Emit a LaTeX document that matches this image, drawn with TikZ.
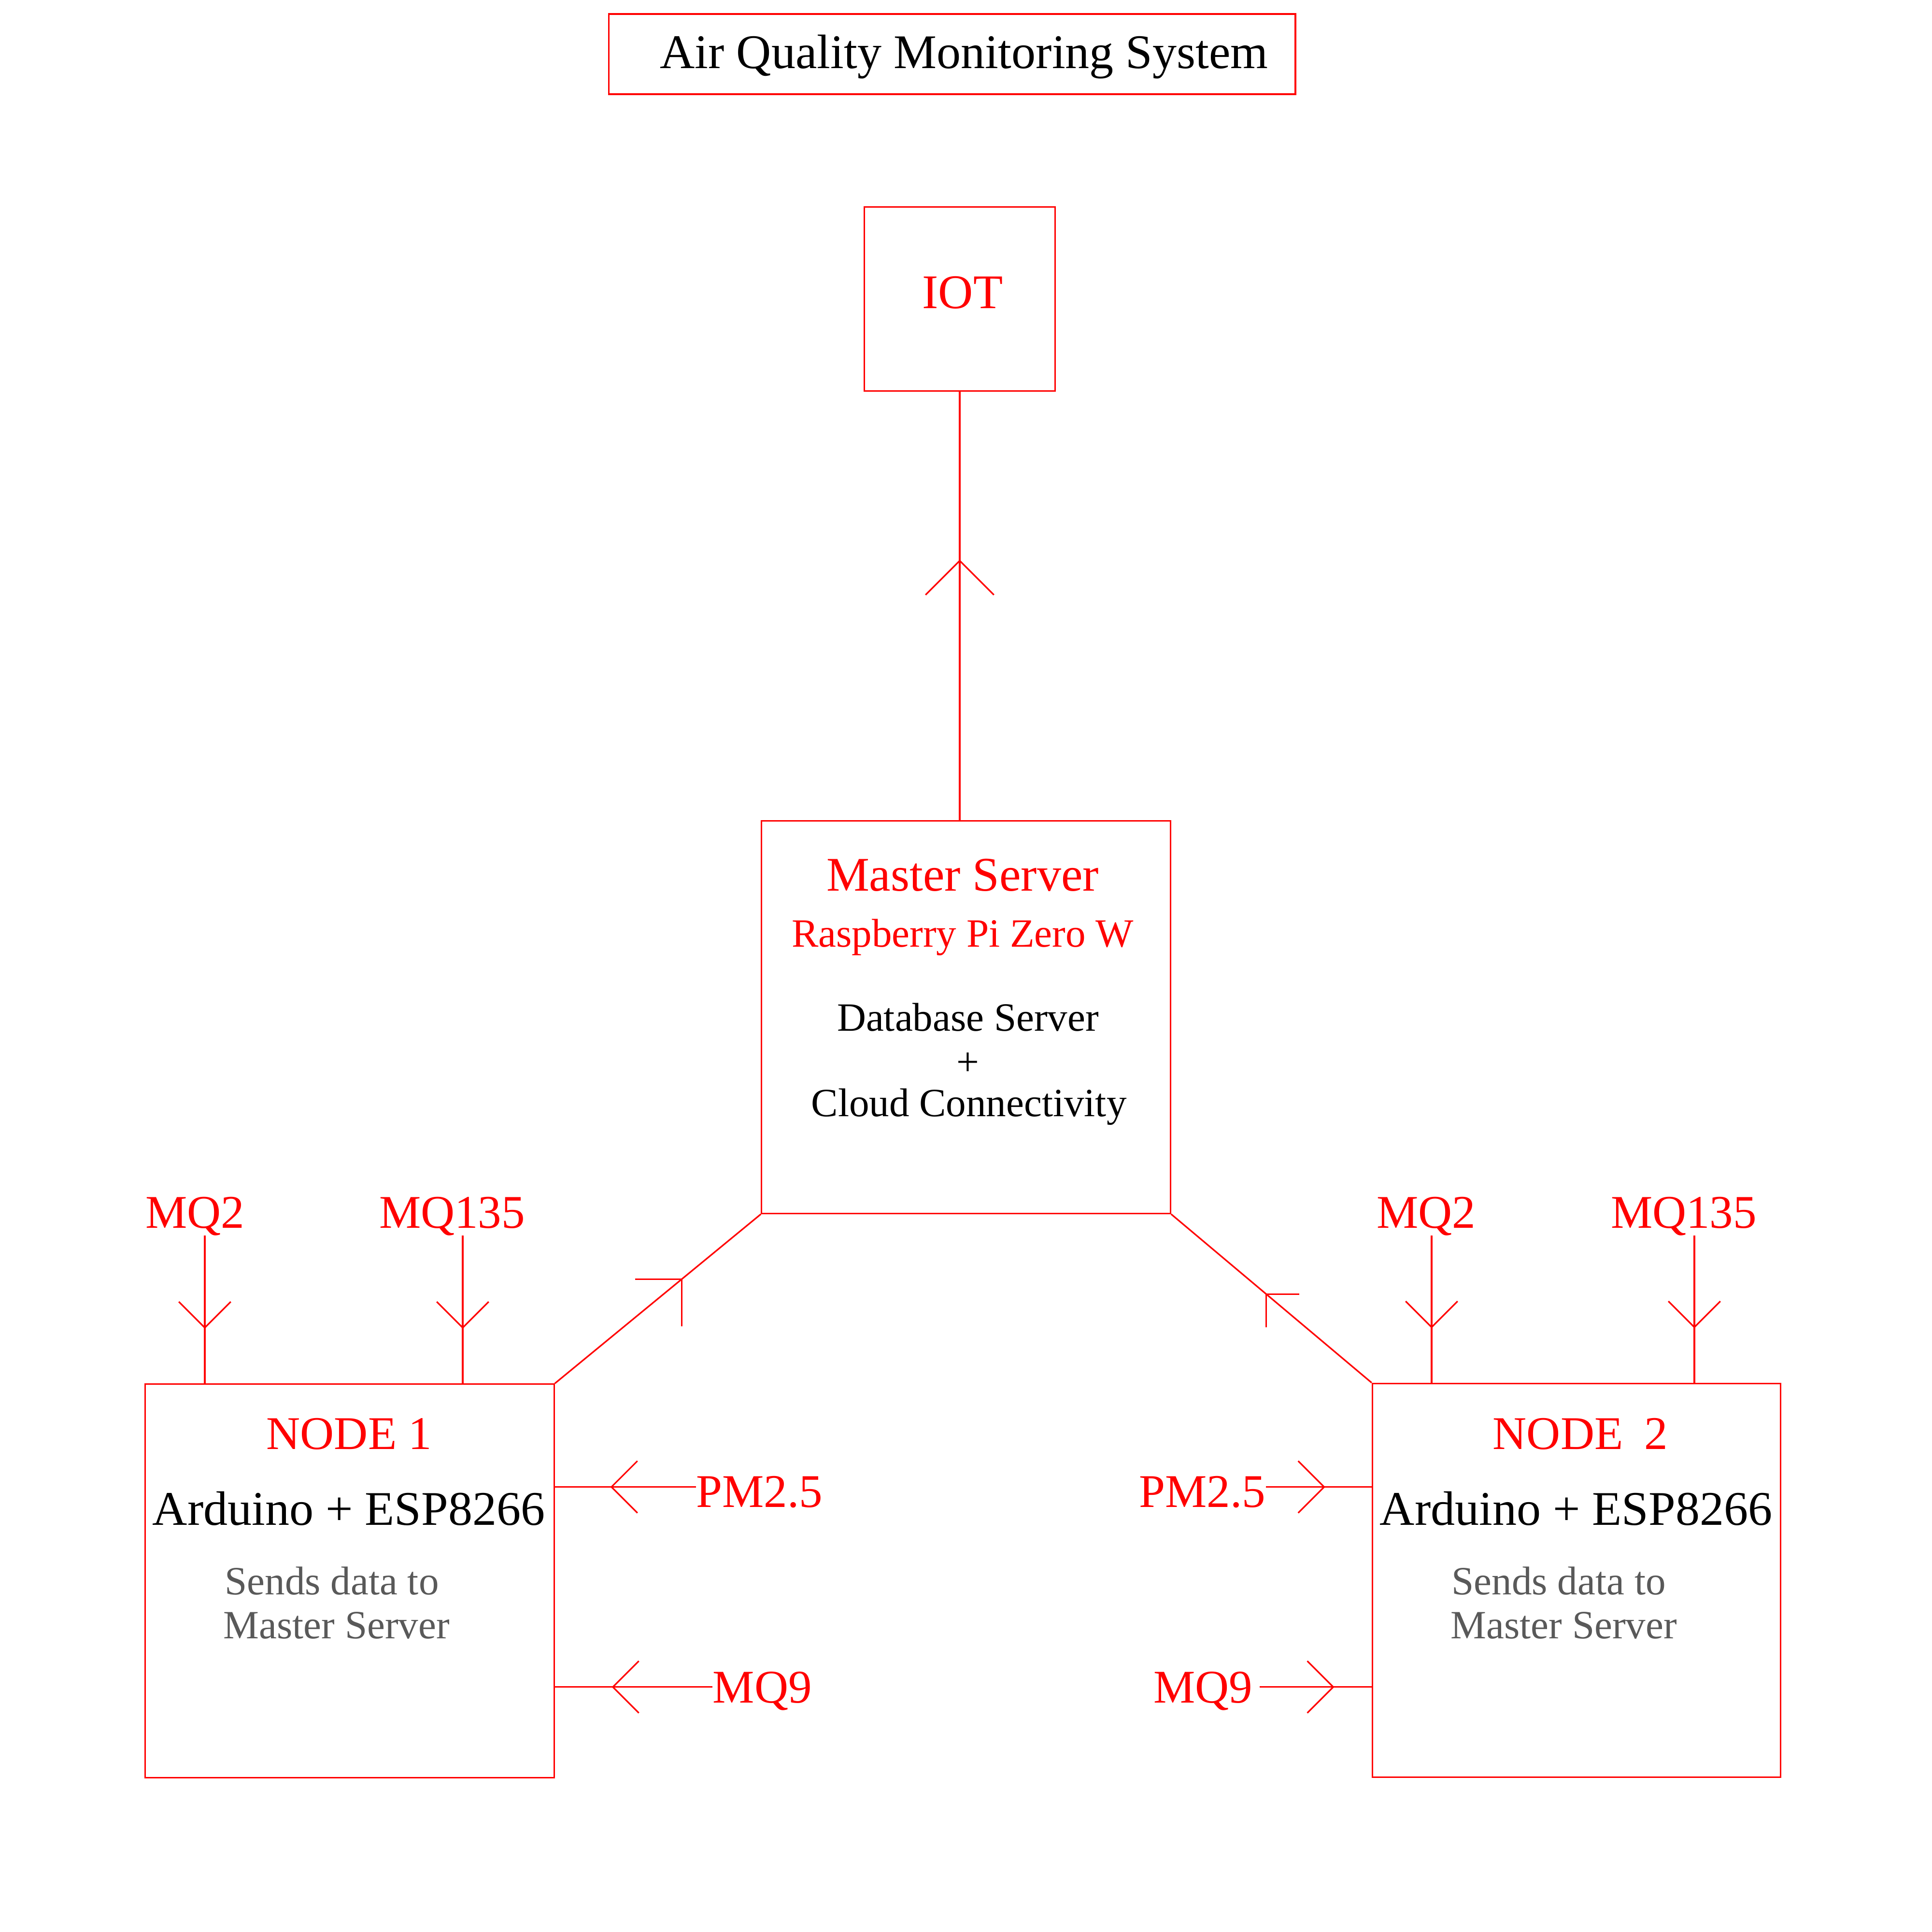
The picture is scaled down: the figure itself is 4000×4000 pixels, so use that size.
\documentclass[tikz,border=0pt]{standalone}
\usepackage{fontspec}
\setmainfont{Liberation Serif}
\usetikzlibrary{arrows.meta,decorations.markings}
\definecolor{sendgray}{RGB}{89,89,89}
\newcommand{\szbig}{\fontsize{1cm}{1.2cm}\selectfont}
\newcommand{\szlbl}{\fontsize{0.97cm}{1.2cm}\selectfont}
\newcommand{\szard}{\fontsize{1cm}{1.2cm}\selectfont}
\newcommand{\szsmall}{\fontsize{0.83cm}{1cm}\selectfont}
\tikzset{
  redbox/.style={draw=red, line width=0.9pt, inner sep=0pt},
  txt/.style={inner sep=0pt, anchor=base},
  wire/.style={red, line width=0.9pt},
  barb/.style 2 args={postaction={decorate}, decoration={markings,
    mark=at position #1 with {\arrow{Straight Barb[angle=90:#2cm]}}}},
  % barb with a fixed direction on the page (for the slanted links)
  fixbarb/.style n args={3}{postaction={decorate}, decoration={markings,
    mark=at position #1 with {\pgftransformresetnontranslations
      \pgftransformrotate{#3}\arrow{Straight Barb[angle=90:#2cm]}}}}
}
\begin{document}
\begin{tikzpicture}[x=0.01cm, y=-0.01cm]
\useasboundingbox (0,0) rectangle (4000,4000);
% title
\node[redbox, minimum width=14.21cm, minimum height=1.66cm] (title) at (1971,112) {};
\node[txt, font=\szbig] (titletext) at (1996,142) {Air Quality Monitoring System};
% IOT
\node[redbox, minimum width=3.94cm, minimum height=3.8cm] (iot) at (1987,619) {};
\node[txt, red, font=\szbig] (iottext) at (1993,638) {IOT};
% master server
\node[redbox, minimum width=8.46cm, minimum height=8.12cm] (master) at (2000,2106) {};
\node[txt, red, font=\szbig] (mastername) at (1993,1844) {Master Server};
\node[txt, red, font=\szsmall] (masterpi) at (1993,1960) {Raspberry Pi Zero W};
\node[txt, font=\szsmall] (masterdb) at (2004,2134) {Database Server};
\node[txt, font=\szsmall] (masterplus) at (2004,2226) {+};
\node[txt, font=\szsmall] (mastercloud) at (2006,2311) {Cloud Connectivity};
% node 1
\node[redbox, minimum width=8.46cm, minimum height=8.14cm] (nodeA) at (724,3273) {};
\node[txt, red, font=\szlbl] (nodeAname) at (723,3000) {NODE 1};
\node[txt, font=\szard] (nodeAboard) at (722,3157) {Arduino + ESP8266};
\node[txt, anchor=base west, sendgray, font=\szsmall] (nodeAsendA) at (465,3301) {Sends data to};
\node[txt, anchor=base west, sendgray, font=\szsmall] (nodeAsendB) at (462,3392) {Master Server};
% node 2
\node[redbox, minimum width=8.45cm, minimum height=8.15cm] (nodeB) at (3264,3272) {};
\node[txt, red, font=\szlbl] (nodeBname) at (3272,3000) {NODE\hspace{0.2cm} 2};
\node[txt, font=\szard] (nodeBboard) at (3263,3157) {Arduino + ESP8266};
\node[txt, anchor=base west, sendgray, font=\szsmall] (nodeBsendA) at (3005,3301) {Sends data to};
\node[txt, anchor=base west, sendgray, font=\szsmall] (nodeBsendB) at (3003,3392) {Master Server};
% sensors
\node[txt, red, font=\szlbl] (mqtwoA) at (404,2542) {MQ2};
\node[txt, red, font=\szlbl] (mqlastA) at (936,2542) {MQ135};
\node[txt, red, font=\szlbl] (mqtwoB) at (2953,2542) {MQ2};
\node[txt, red, font=\szlbl] (mqlastB) at (3486,2542) {MQ135};
\node[txt, anchor=base west, red, font=\szlbl] (pmA) at (1441,3120) {PM2.5};
\node[txt, anchor=base west, red, font=\szlbl] (mqnineA) at (1475,3525) {MQ9};
\node[txt, anchor=base east, red, font=\szlbl] (pmB) at (2621,3120) {PM2.5};
\node[txt, anchor=base east, red, font=\szlbl] (mqnineB) at (2594,3525) {MQ9};
% links
\draw[wire, barb={0.608}{1.0}] (iot.south |- master.north) -- (iot.south);
\draw[wire, fixbarb={0.62}{0.97}{45}] (nodeA.north east) -- (master.south west);
\draw[wire, fixbarb={0.529}{0.68}{135}] (nodeB.north west) -- (master.south east);
\draw[wire, barb={0.63}{0.76}] ([xshift=0.2cm]mqtwoA.south) -- ([xshift=0.2cm]mqtwoA.south |- nodeA.north);
\draw[wire, barb={0.63}{0.76}] ([xshift=0.22cm]mqlastA.south) -- ([xshift=0.22cm]mqlastA.south |- nodeA.north);
\draw[wire, barb={0.63}{0.76}] ([xshift=0.11cm]mqtwoB.south) -- ([xshift=0.11cm]mqtwoB.south |- nodeB.north);
\draw[wire, barb={0.63}{0.76}] ([xshift=0.22cm]mqlastB.south) -- ([xshift=0.22cm]mqlastB.south |- nodeB.north);
\draw[wire, barb={0.607}{0.76}] ([yshift=0.1cm]pmA.west) -- ([yshift=0.1cm]pmA.west -| nodeA.east);
\draw[wire, barb={0.639}{0.76}] ([yshift=0.08cm]mqnineA.west) -- ([yshift=0.08cm]mqnineA.west -| nodeA.east);
\draw[wire, barb={0.561}{0.76}] ([yshift=0.1cm]pmB.east) -- ([yshift=0.1cm]pmB.east -| nodeB.west);
\draw[wire, barb={0.667}{0.76}] ([xshift=0.14cm,yshift=0.08cm]mqnineB.east) -- ([yshift=0.08cm]mqnineB.east -| nodeB.west);
\end{tikzpicture}
\end{document}
